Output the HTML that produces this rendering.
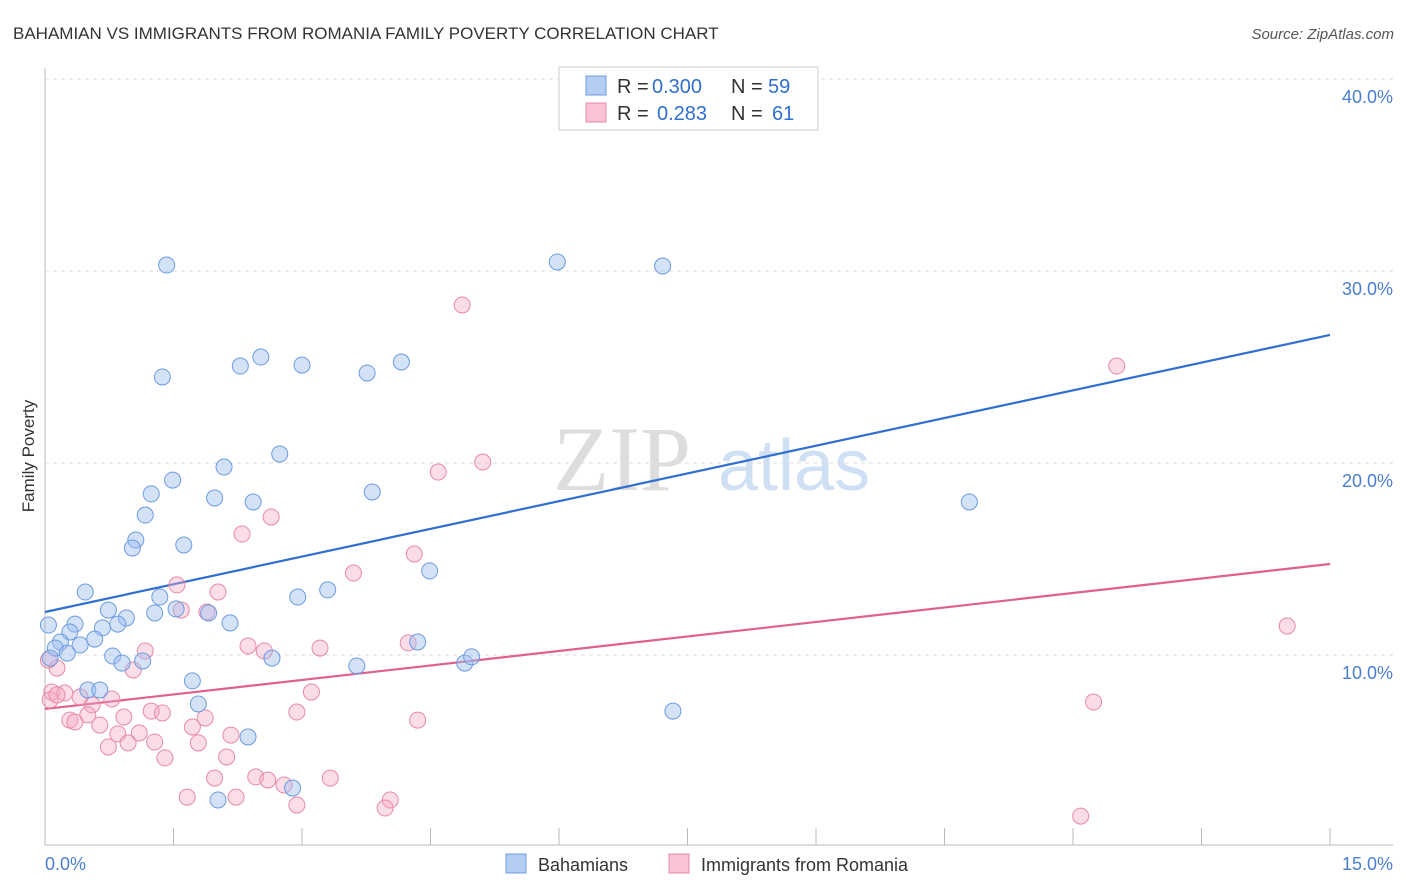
<!DOCTYPE html>
<html><head><meta charset="utf-8"><style>
body{margin:0;background:#fff;font-family:"Liberation Sans",sans-serif;}
svg{display:block}
</style></head><body>
<svg width="1406" height="892" id="chart">
<text x="13" y="39" font-size="17" fill="#333">BAHAMIAN VS IMMIGRANTS FROM ROMANIA FAMILY POVERTY CORRELATION CHART</text>
<text x="1394" y="39" font-size="15" fill="#555" font-style="italic" text-anchor="end">Source: ZipAtlas.com</text>
<text transform="translate(34,456) rotate(-90)" font-size="17" fill="#333" text-anchor="middle">Family Poverty</text>
<g>
<text x="553" y="490" font-size="92" fill="#ddd" font-family="Liberation Serif,serif">ZIP</text>
<text x="718" y="490" font-size="72" fill="#cfe0f5">atlas</text>
</g>
<g id="grid"></g><g id="axes"></g><g id="lines"></g><g id="pts"></g>
<g>
<rect x="559" y="67" width="259" height="63" fill="#fff" stroke="#ccc"/>
<rect x="586" y="76" width="20" height="19" fill="#b5cdf3" stroke="#6c9be0"/>
<rect x="586" y="103" width="20" height="19" fill="#f8c4d4" stroke="#e889a8"/>
<text x="617" y="93" font-size="20" fill="#333">R =</text>
<text x="652" y="93" font-size="20" fill="#2f6fd1">0.300</text>
<text x="731" y="93" font-size="20" fill="#333">N =</text>
<text x="768" y="93" font-size="20" fill="#2f6fd1">59</text>
<text x="617" y="120" font-size="20" fill="#333">R =</text>
<text x="657" y="120" font-size="20" fill="#2f6fd1">0.283</text>
<text x="731" y="120" font-size="20" fill="#333">N =</text>
<text x="772" y="120" font-size="20" fill="#2f6fd1">61</text>
</g>
<g>
<rect x="506" y="854" width="20" height="19" fill="#b5cdf3" stroke="#6c9be0"/>
<text x="538" y="871" font-size="18" fill="#333">Bahamians</text>
<rect x="669" y="854" width="20" height="19" fill="#f8c4d4" stroke="#e889a8"/>
<text x="701" y="871" font-size="18" fill="#333">Immigrants from Romania</text>
</g>
</svg>
<script>
const yTicks=[10,20,30,40];
const yTickLabels=["10.0%","20.0%","30.0%","40.0%"];
const xTickLabels=["0.0%","15.0%"];
const blueX=[1.42,5.98,7.21,1.37,2.28,2.52,3.00,3.76,4.16,2.09,2.74,1.49,1.24,1.98,2.43,3.82,10.79,1.17,1.06,1.02,1.62,4.49,0.47,1.34,2.95,3.30,0.74,1.28,1.53,1.91,0.95,0.35,0.85,0.67,2.16,0.04,0.29,0.58,0.41,0.18,0.12,0.26,4.35,0.79,1.14,0.90,2.65,3.64,4.90,4.98,1.72,0.50,0.64,1.79,7.33,2.37,2.89,2.02,0.06];
const blueY=[30.31,30.47,30.26,24.48,25.05,25.52,25.10,24.69,25.26,19.79,20.47,19.11,18.39,18.18,17.97,18.49,17.97,17.29,15.99,15.57,15.73,14.38,13.28,13.02,13.02,13.39,12.34,12.19,12.40,12.19,11.93,11.61,11.61,11.41,11.67,11.56,11.20,10.83,10.52,10.68,10.36,10.10,10.68,9.95,9.69,9.58,9.84,9.43,9.58,9.90,8.65,8.18,8.18,7.45,7.08,5.73,3.07,2.45,9.84];
const pinkX=[4.87,12.51,5.11,4.59,2.64,2.30,4.31,3.60,1.54,2.02,1.59,1.89,2.37,2.56,3.21,4.24,1.17,1.03,0.14,0.08,0.23,0.41,0.78,0.55,0.06,14.50,12.24,0.29,0.35,0.50,0.64,0.92,1.24,1.37,1.87,2.94,3.11,4.35,1.72,2.17,0.85,1.10,1.28,0.97,1.79,0.74,1.40,2.12,1.98,2.46,2.60,2.79,3.33,4.03,3.97,2.94,2.23,1.66,12.09,0.14,0.04];
const pinkY=[28.23,25.05,20.05,19.53,17.19,16.30,15.26,14.27,13.65,13.28,12.34,12.24,10.47,10.21,10.36,10.63,10.21,9.22,9.32,8.07,8.02,7.81,7.71,7.40,7.66,11.51,7.55,6.61,6.51,6.88,6.35,6.77,7.08,6.98,6.72,7.03,8.07,6.61,6.25,5.83,5.89,5.94,5.47,5.42,5.42,5.21,4.64,4.69,3.59,3.65,3.49,3.23,3.59,2.45,2.03,2.19,2.60,2.60,1.61,7.92,9.74];
const blueTrend=[12.24,26.67];
const pinkTrend=[7.19,14.74];
const NS="http://www.w3.org/2000/svg";
const sx=v=>45+v/15*1285, sy=v=>847-v*19.2;
function mk(t,a,p){const e=document.createElementNS(NS,t);for(const k in a)e.setAttribute(k,a[k]);p.appendChild(e);return e;}
const grid=document.getElementById('grid'),axes=document.getElementById('axes'),lines=document.getElementById('lines'),pts=document.getElementById('pts');
mk('line',{x1:45,y1:79,x2:1393,y2:79,stroke:'#ddd','stroke-dasharray':'4,4'},grid);
yTicks.forEach((t,i)=>{
 const l=mk('line',{x1:45,y1:sy(t),x2:1393,y2:sy(t),stroke:'#ddd','stroke-dasharray':'4,4'},grid);
 
 
 const tx=mk('text',{x:1393,y:sy(t)+24,'font-size':18,fill:'#4a7fd0','text-anchor':'end'},grid);
 tx.textContent=yTickLabels[i];
 
 
});
mk('line',{x1:45,y1:68,x2:45,y2:845,stroke:'#bbb'},axes);
mk('line',{x1:45,y1:845,x2:1393,y2:845,stroke:'#bbb'},axes);
for(let i=1;i<=10;i++){mk('line',{x1:sx(i*1.5),y1:828,x2:sx(i*1.5),y2:845,stroke:'#bbb'},axes);}
const xl0=mk('text',{x:45,y:870,'font-size':18,fill:'#4a7fd0'},axes);xl0.textContent=xTickLabels[0];


const xl1=mk('text',{x:1393,y:870,'font-size':18,fill:'#4a7fd0','text-anchor':'end'},axes);xl1.textContent=xTickLabels[1];


function dots(X,Y,fill,stroke,name){X.forEach((x,i)=>{const c=mk('circle',{cx:sx(x),cy:sy(Y[i]),r:8,fill:fill,stroke:stroke,'stroke-width':1},pts);
 
 });}
dots(pinkX,pinkY,'rgba(245,170,195,0.4)','#e889a8','point-romania');
dots(blueX,blueY,'rgba(160,190,240,0.45)','#6c9be0','point-bahamian');
const bl=mk('line',{x1:sx(0),y1:sy(blueTrend[0]),x2:sx(15),y2:sy(blueTrend[1]),stroke:'#2f6fd1','stroke-width':2.2},lines);


const pl=mk('line',{x1:sx(0),y1:sy(pinkTrend[0]),x2:sx(15),y2:sy(pinkTrend[1]),stroke:'#e0608f','stroke-width':2.2},lines);


</script>
</body></html>
